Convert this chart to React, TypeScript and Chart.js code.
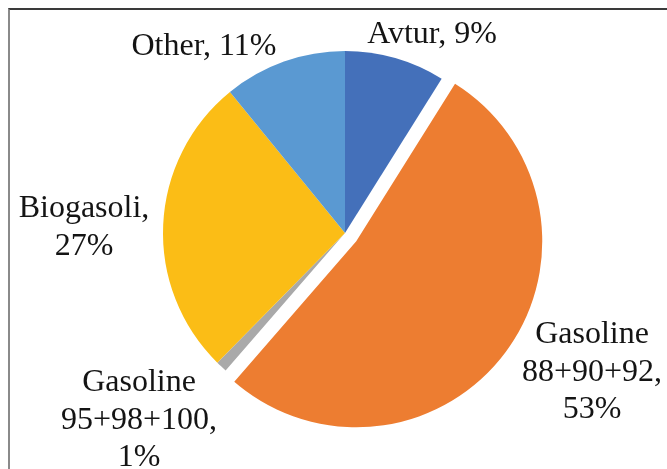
import React, { useEffect, useRef } from "react";
import { Chart, registerables } from "chart.js";

Chart.register(...registerables);

const categories = ["Avtur", "Gasoline 88+90+92", "Gasoline 95+98+100", "Biogasoli", "Other"];
const shares = [9, 53, 1, 27, 11];
const colors = ["#4470BA", "#ED7D31", "#A9A9A9", "#FBBD16", "#5A99D2"];

// label text layout: [centerX, firstBaselineY, wrap]
const labelLayout: [number, number, boolean][] = [
  [432, 43, false],
  [592, 343, true],
  [139, 391, true],
  [84, 217, true],
  [204, 55, false],
];

const EXPLODE_INDEX = 1;
const EXPLODE_SHIFT = 14;
const EXPLODE_GROW = 4;

function labelLines(i: number): string[] {
  const name = categories[i];
  const pct = shares[i] + "%";
  if (!labelLayout[i][2]) return [name + ", " + pct];
  const parts = name.split(" ");
  parts[parts.length - 1] = parts[parts.length - 1] + ",";
  return [...parts, pct];
}

export default function App() {
  const ref = useRef<HTMLCanvasElement | null>(null);

  useEffect(() => {
    if (!ref.current) return;
    const explodePlugin = {
      id: "explode",
      afterDatasetUpdate(chart: any, args: any) {
        const meta = chart.getDatasetMeta(args.index);
        const arc: any = meta.data[EXPLODE_INDEX];
        if (!arc) return;
        const half = (arc.startAngle + arc.endAngle) / 2;
        arc.x = arc.x + Math.cos(half) * EXPLODE_SHIFT;
        arc.y = arc.y + Math.sin(half) * EXPLODE_SHIFT;
        arc.outerRadius = arc.outerRadius + EXPLODE_GROW;
      },
    };
    const labelPlugin = {
      id: "pieLabels",
      afterDraw(chart: any) {
        const ctx = chart.ctx;
        ctx.save();
        ctx.font = "32px 'Liberation Serif', 'Times New Roman', serif";
        ctx.fillStyle = "#141414";
        ctx.textAlign = "center";
        ctx.textBaseline = "alphabetic";
        categories.forEach((_, i) => {
          const [x, y] = labelLayout[i];
          labelLines(i).forEach((line, k) => {
            ctx.fillText(line, x, y + k * 37.5);
          });
        });
        ctx.restore();
      },
    };
    const chart = new Chart(ref.current, {
      type: "pie",
      data: {
        labels: categories,
        datasets: [
          {
            data: shares,
            backgroundColor: colors,
            borderWidth: 0,
            radius: 182,
          } as any,
        ],
      },
      options: {
        animation: false,
        responsive: false,
        events: [],
        layout: { padding: { left: 23, right: 0, top: 0, bottom: 3 } },
        plugins: {
          legend: { display: false },
          tooltip: { enabled: false },
        },
      } as any,
      plugins: [explodePlugin, labelPlugin],
    });
    return () => chart.destroy();
  }, []);

  return (
    <div style={{ position: "fixed", left: 0, top: 0, width: 667, height: 469, background: "#fff", overflow: "hidden" }}>
      <div
        style={{
          position: "absolute",
          left: 8,
          top: 8,
          width: 700,
          height: 500,
          borderTop: "2px solid #3a3a3a",
          borderLeft: "2px solid #8a8a8a",
          boxSizing: "border-box",
        }}
      />
      <canvas ref={ref} width={667} height={469} style={{ position: "absolute", left: 0, top: 0 }} />
    </div>
  );
}
